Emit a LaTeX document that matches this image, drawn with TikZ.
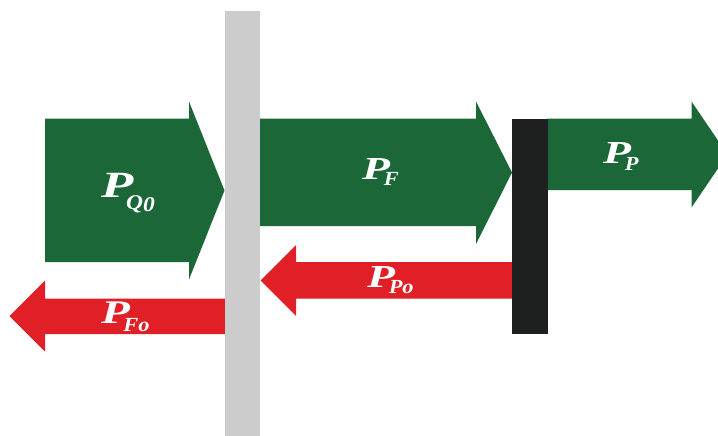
\documentclass[tikz,border=0pt]{standalone}
\usepackage{fontspec}
\usepackage{graphicx}
\setmainfont{Liberation Serif}
\definecolor{flowgreen}{HTML}{1B6737}
\definecolor{flowred}{HTML}{E01F27}
\definecolor{wallgray}{HTML}{CCCCCC}
\definecolor{walldark}{HTML}{1E1F1F}
\tikzset{
  greenflow/.style={fill=flowgreen, draw=none},
  redflow/.style={fill=flowred, draw=none},
  lbl/.style={anchor=base west, inner sep=0pt, text=white},
}
\newcommand\fsz[1]{\fontsize{#1}{#1}\selectfont}
% wide bold-italic power symbol: #1 main size, #2 subscript size,
% #3 subscript drop, #4 subscript text
\newcommand\pwr[4]{{\bfseries\itshape\fsz{#1}\scalebox{1.43}[1]{P}\kern-0.2em
  \raisebox{-#3}{\fsz{#2}\scalebox{1.12}[1]{#4}}}}
\begin{document}
\begin{tikzpicture}[x=1pt, y=-1pt]
\useasboundingbox (0,0) rectangle (718,436);
\clip (0,0) rectangle (718,436);

% forward power flows (green)
\path[greenflow] (45,118.5) -- (189,118.5) -- (189,101.5) -- (224.5,190.5)
  -- (189,279.5) -- (189,262) -- (45,262) -- cycle;
\path[greenflow] (260,118.5) -- (476,118.5) -- (476,101.5) -- (512,172.5)
  -- (476,244) -- (476,226) -- (260,226) -- cycle;
\path[greenflow] (547,118.5) -- (691.5,118.5) -- (691.5,101.5) -- (727.5,154.5)
  -- (691.5,207.5) -- (691.5,190) -- (547,190) -- cycle;

% reflected power flows (red)
\path[redflow] (512,262) -- (296,262) -- (296,245) -- (260.5,280.5)
  -- (296,316) -- (296,298.5) -- (512,298.5) -- cycle;
\path[redflow] (225,298.5) -- (45,298.5) -- (45,280.5) -- (9.5,316)
  -- (45,351.5) -- (45,334) -- (225,334) -- cycle;

% walls
\fill[wallgray] (225,11) rectangle (260,436);
\fill[walldark] (512,118.5) rectangle (547.5,334);

% labels
\node[lbl] (pq) at (101,197.3) {\pwr{37}{21}{11.7pt}{Q\raisebox{-2.5pt}{0}}};
\node[lbl] (pf) at (362,179.3) {\pwr{32}{20}{6.6pt}{F}};
\node[lbl] (pp) at (603,163.3) {\pwr{32}{20}{6.9pt}{P}};
\node[lbl] (ppo) at (367,287.3) {\pwr{32}{20}{6pt}{Po}};
\node[lbl] (pfo) at (101,323) {\pwr{33}{20}{8.5pt}{Fo}};
\end{tikzpicture}
\end{document}
